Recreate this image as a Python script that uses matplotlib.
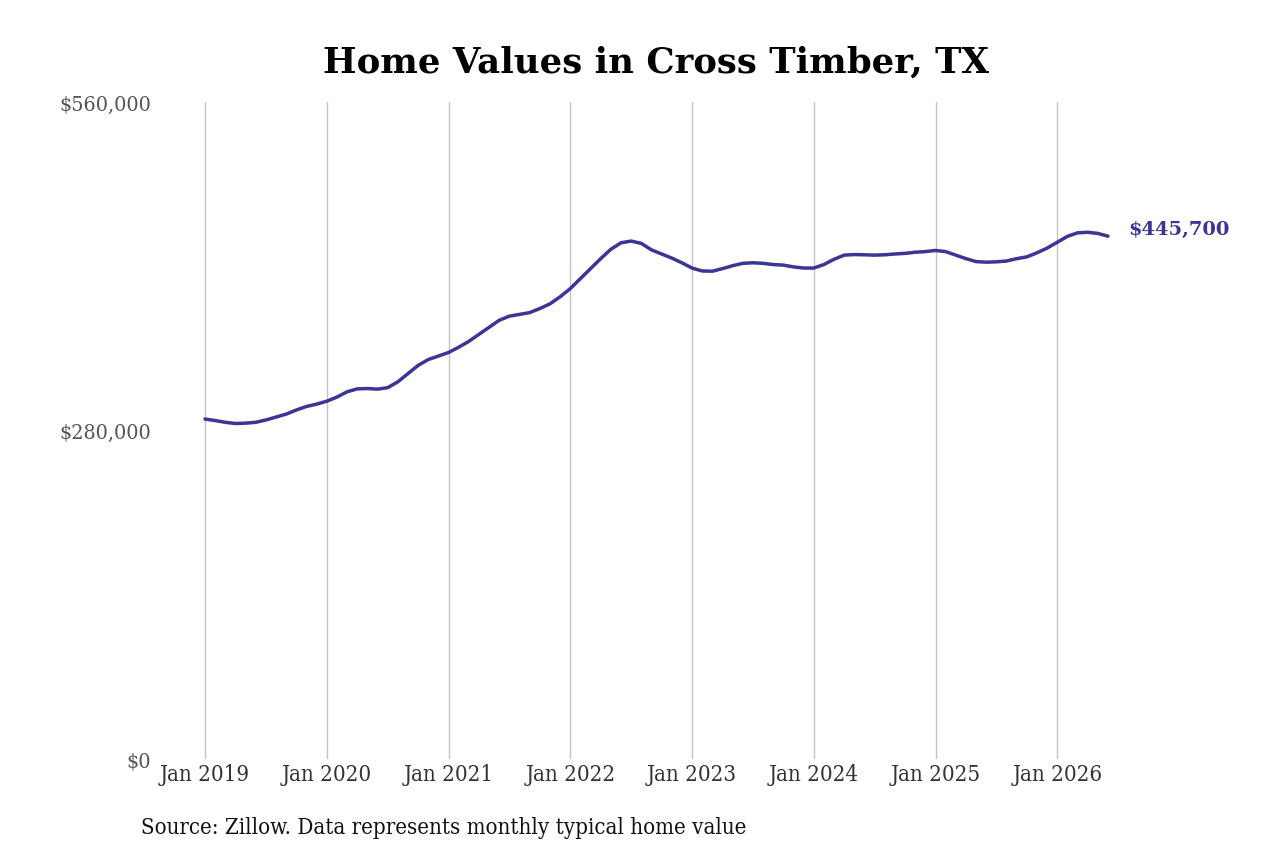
import numpy as np
import matplotlib
matplotlib.use('Agg')
import matplotlib.pyplot as plt
from matplotlib.ticker import FuncFormatter

# monthly typical home value, Jan 2019 .. Jun 2026
values = [
    289800, 288500, 287000, 286000, 286300, 287000, 289000, 291500, 294000, 297500, 300500, 302500,
    305000, 308500, 313000, 315500, 315800, 315300, 316500, 321500, 328500, 335500, 340500, 343500,
    346500, 351000, 356000, 362000, 368000, 374000, 377500, 379000, 380500, 384000, 388000, 394000,
    401000, 409500, 418000, 426500, 434500, 440000, 441500, 439500, 434000, 430500, 427000, 423000,
    418500, 416000, 415800, 418000, 420500, 422500, 423000, 422500, 421500, 421000, 419500, 418500,
    418500, 421500, 426000, 429500, 430000, 429800, 429500, 429800, 430500, 431000, 432000, 432500,
    433500, 432500, 429500, 426500, 424000, 423500, 423800, 424500, 426500, 428000, 431500, 435500,
    440500, 445500, 448500, 449000, 448000, 445700,
]
tick_labels = ['Jan 2019', 'Jan 2020', 'Jan 2021', 'Jan 2022',
               'Jan 2023', 'Jan 2024', 'Jan 2025', 'Jan 2026']
y_ticks = [0, 280000, 560000]
last_label = '$445,700'

line_color = '#3b3596'
serif = ['DejaVu Serif']

months = np.arange(len(values))

fig = plt.figure(figsize=(12.8, 8.53), dpi=100)
ax = fig.add_axes([0.1211, 0.1090, 0.7461, 0.7702])

ax.plot(months, values, color=line_color, lw=2.5, solid_capstyle='round', zorder=3)

ax.set_xlim(-4.93, 89.2)
ax.set_ylim(0, 560000)
ax.set_xticks(np.arange(0, 12 * len(tick_labels), 12))
ax.set_xticklabels(tick_labels)
ax.set_yticks(y_ticks)
ax.yaxis.set_major_formatter(FuncFormatter(lambda v, p: f'${v:,.0f}'))

ax.grid(axis='x', color='#c4c4c4', lw=1)
ax.grid(axis='y', visible=False)
for s in ax.spines.values():
    s.set_visible(False)
ax.tick_params(axis='x', length=0, pad=3, colors='#333333')
ax.tick_params(axis='y', length=0, pad=3, colors='#555555')
for lab in ax.get_xticklabels():
    lab.set_fontfamily(serif)
    lab.set_fontstretch('condensed')
    lab.set_fontsize(16)
for lab in ax.get_yticklabels():
    lab.set_fontfamily(serif)
    lab.set_fontstretch('condensed')
    lab.set_fontsize(15.4)

ax.annotate(last_label, xy=(months[-1], values[-1]), xytext=(14.5, 5),
            textcoords='offset points', ha='left', va='center',
            color=line_color, fontsize=14, fontweight='bold', family=serif)

fig.text(0.5125, 0.927, 'Home Values in Cross Timber, TX', ha='center', va='center',
         fontsize=25.6, fontweight='bold', family=serif, color='black')
fig.text(0.110, 0.0293, 'Source: Zillow. Data represents monthly typical home value',
         ha='left', va='center', fontsize=15.9, family=serif, fontstretch='condensed',
         color='#111111')

fig.savefig('out.png', dpi=100, facecolor='white')
